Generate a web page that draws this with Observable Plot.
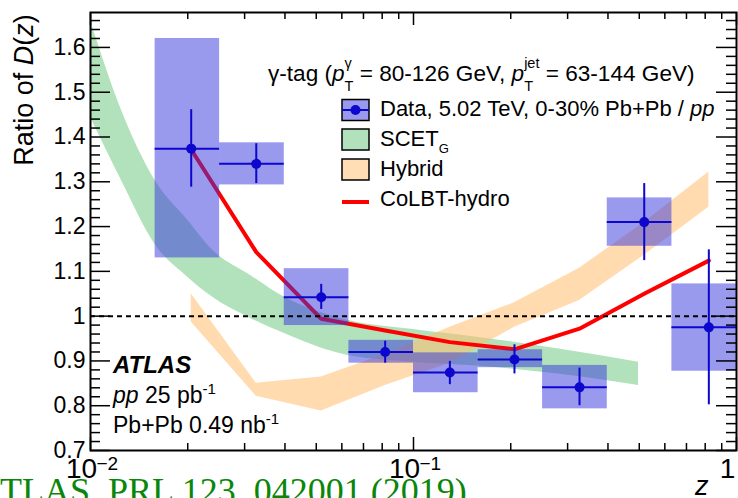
<!DOCTYPE html>
<html><head><meta charset="utf-8">
<script src="https://cdn.jsdelivr.net/npm/d3@7"></script>
<script src="https://cdn.jsdelivr.net/npm/@observablehq/plot@0.6"></script>
<style>
html,body{margin:0;padding:0;background:#fff;}
svg{display:block;}
</style></head><body><div id="chart"></div>
<script>
// ---- data ----
const binLo  = [0.01585, 0.0251, 0.0398, 0.0631, 0.1, 0.1585, 0.251, 0.398, 0.631];
const binHi  = [0.0251, 0.0398, 0.0631, 0.1, 0.1585, 0.251, 0.398, 0.631, 1.0];
const zData  = [0.0205, 0.0326, 0.0518, 0.0817, 0.1296, 0.2054, 0.3266, 0.518, 0.821];
const ratio  = [1.374, 1.340, 1.042, 0.920, 0.874, 0.903, 0.841, 1.210, 0.975];
const statLo = [1.288, 1.296, 1.015, 0.895, 0.847, 0.871, 0.800, 1.124, 0.802];
const statHi = [1.461, 1.385, 1.071, 0.944, 0.899, 0.936, 0.884, 1.296, 1.148];
const sysLo  = [1.130, 1.293, 0.979, 0.895, 0.829, 0.885, 0.793, 1.156, 0.877];
const sysHi  = [1.620, 1.387, 1.106, 0.946, 0.918, 0.925, 0.890, 1.264, 1.072];

const zColbt = [0.0205, 0.0326, 0.0518, 0.0817, 0.1296, 0.2054, 0.3266, 0.518, 0.821];
const colbt  = [1.372, 1.143, 0.994, 0.968, 0.942, 0.926, 0.972, 1.050, 1.124];

const zScet  = [0.01, 0.01247, 0.01585, 0.0200, 0.0239, 0.03129, 0.03987, 0.0594, 0.1, 0.1613, 0.2852, 0.4973];
const scetUp = [1.660, 1.460, 1.303, 1.214, 1.147, 1.091, 1.042, 0.995, 0.970, 0.952, 0.926, 0.897];
const scetLo = [1.444, 1.303, 1.160, 1.087, 1.042, 0.995, 0.961, 0.916, 0.897, 0.888, 0.870, 0.845];

const zHybrid  = [0.0205, 0.0326, 0.0518, 0.0817, 0.1296, 0.2054, 0.3266, 0.518, 0.821];
const hybridUp = [1.050, 0.850, 0.864, 0.915, 0.975, 1.030, 1.107, 1.209, 1.322];
const hybridLo = [0.987, 0.821, 0.788, 0.845, 0.895, 0.975, 1.035, 1.136, 1.243];

const yTicks = [0.7, 0.8, 0.9, 1.0, 1.1, 1.2, 1.3, 1.4, 1.5, 1.6];
const yMinorTicks = [0.72,0.74,0.76,0.78,0.82,0.84,0.86,0.88,0.92,0.94,0.96,0.98,1.02,1.04,1.06,1.08,1.12,1.14,1.16,1.18,1.22,1.24,1.26,1.28,1.32,1.34,1.36,1.38,1.42,1.44,1.46,1.48,1.52,1.54,1.56,1.58,1.62,1.64,1.66];
const xTicks = [0.01, 0.1, 1];
const xMinorTicks = [0.02,0.03,0.04,0.05,0.06,0.07,0.08,0.09,0.2,0.3,0.4,0.5,0.6,0.7,0.8,0.9];
const xTickBase = ["10", "10", "1"];
const xTickExp  = ["\u22122", "\u22121", ""];
const yMax = 1.678;

// ---- styles ----
const FONT = '"Liberation Sans", Arial, Helvetica, sans-serif';
const BLUE = "#0d06cc";
const BOXFILL = "rgb(51,51,221)";
const GREEN = "rgb(102,197,122)";
const ORANGE = "rgb(255,190,110)";

const bins = binLo.map((lo, i) => ({lo, hi: binHi[i], z: zData[i], r: ratio[i],
  sLo: statLo[i], sHi: statHi[i], yLo: sysLo[i], yHi: sysHi[i]}));
const scet = zScet.map((z, i) => ({z, lo: scetLo[i], up: scetUp[i]}));
const hyb = zHybrid.map((z, i) => ({z, lo: hybridLo[i], up: hybridUp[i]}));
const col = zColbt.map((z, i) => ({z, v: colbt[i]}));
const xLab = xTicks.map((v, i) => ({v, base: xTickBase[i], exp: xTickExp[i]}));
const fmtY = d => String(+d.toFixed(1));

const plot = Plot.plot({
  width: 738, height: 498,
  marginLeft: 90, marginRight: 2, marginTop: 12, marginBottom: 48,
  style: {fontFamily: FONT, background: "white", color: "black"},
  x: {type: "log", domain: [0.01, 1], axis: null},
  y: {domain: [0.7, yMax], axis: null},
  marks: [
    Plot.areaY(scet, {x: "z", y1: "lo", y2: "up", fill: GREEN, fillOpacity: 0.5, curve: "monotone-x"}),
    Plot.areaY(hyb, {x: "z", y1: "lo", y2: "up", fill: ORANGE, fillOpacity: 0.55}),
    Plot.line(col, {x: "z", y: "v", stroke: "#ff0000", strokeWidth: 4}),
    Plot.rect(bins, {x1: "lo", x2: "hi", y1: "yLo", y2: "yHi", fill: BOXFILL, fillOpacity: 0.5}),
    Plot.ruleY([1], {stroke: "black", strokeWidth: 2, strokeDasharray: "5,4"}),
    Plot.ruleX(bins, {x: "z", y1: "sLo", y2: "sHi", stroke: BLUE, strokeWidth: 2}),
    Plot.ruleY(bins, {y: "r", x1: "lo", x2: "hi", stroke: BLUE, strokeWidth: 2}),
    Plot.dot(bins, {x: "z", y: "r", r: 5, fill: BLUE, stroke: null}),
    // ticks (inside the frame, ROOT style)
    Plot.ruleY(yTicks, {y: d => d, x1: 0.01, x2: 0.01, insetRight: -20, stroke: "black", strokeWidth: 1.5}),
    Plot.ruleY(yMinorTicks, {y: d => d, x1: 0.01, x2: 0.01, insetRight: -10, stroke: "black", strokeWidth: 1.5}),
    Plot.ruleY(yTicks, {y: d => d, x1: 1, x2: 1, insetLeft: -20, stroke: "black", strokeWidth: 1.5}),
    Plot.ruleY(yMinorTicks, {y: d => d, x1: 1, x2: 1, insetLeft: -10, stroke: "black", strokeWidth: 1.5}),
    Plot.ruleX(xTicks, {x: d => d, y1: 0.7, y2: 0.7, insetTop: -13, stroke: "black", strokeWidth: 1.5}),
    Plot.ruleX(xMinorTicks, {x: d => d, y1: 0.7, y2: 0.7, insetTop: -7, stroke: "black", strokeWidth: 1.5}),
    Plot.ruleX(xTicks, {x: d => d, y1: yMax, y2: yMax, insetBottom: -13, stroke: "black", strokeWidth: 1.5}),
    Plot.ruleX(xMinorTicks, {x: d => d, y1: yMax, y2: yMax, insetBottom: -7, stroke: "black", strokeWidth: 1.5}),
    // tick labels
    Plot.text(yTicks, {y: d => d, frameAnchor: "left", dx: -5, textAnchor: "end", text: fmtY, fontSize: 23, fill: "black"}),
    Plot.text(xLab, {x: "v", frameAnchor: "bottom", dy: 27, dx: -9, text: "base", fontSize: 28, fill: "black"}),
    Plot.text(xLab, {x: "v", frameAnchor: "bottom", dy: 19, dx: 6, textAnchor: "start", text: "exp", fontSize: 19, fill: "black"}),
    Plot.frame({stroke: "black", strokeWidth: 2})
  ]
});
document.getElementById("chart").appendChild(plot);

// ---- annotations (legend, labels) ----
const svg = d3.select(plot);
const g = svg.append("g").attr("font-family", FONT).attr("fill", "black")
  .attr("text-anchor", "start").style("text-anchor", "start");

function rich(x, y, parts, size) {
  let cx = x, prevStart = x;
  for (const p of parts) {
    const fs = p.fs || size;
    const px = p.stack ? prevStart : cx;
    const t = g.append("text").attr("x", px).attr("y", y + (p.dy || 0))
      .attr("font-size", fs).attr("text-anchor", "start").text(p.t);
    if (p.it) t.attr("font-style", "italic");
    if (p.b) t.attr("font-weight", "bold");
    if (p.fill) t.attr("fill", p.fill);
    if (p.family) t.attr("font-family", p.family);
    const w = t.node().getComputedTextLength();
    if (p.stack) cx = Math.max(cx, px + w);
    else { prevStart = px; cx = px + w; }
  }
  return cx;
}

// header
rich(268, 81, [
  {t: "\u03b3-tag ("}, {t: "p", it: true},
  {t: "T", fs: 14.5, dy: 10}, {t: "\u03b3", fs: 14.5, dy: -13, stack: true},
  {t: " = 80-126 GeV, "}, {t: "p", it: true},
  {t: "T", fs: 14.5, dy: 10}, {t: "jet", fs: 14.5, dy: -13, stack: true},
  {t: " = 63-144 GeV)"}
], 22.6);

// legend symbols
const lx = 342, lw = 27;
g.append("rect").attr("x", lx).attr("y", 99.5).attr("width", lw).attr("height", 21)
  .attr("fill", "rgb(153,153,238)").attr("stroke", "black").attr("stroke-width", 1.5);
g.append("line").attr("x1", lx).attr("x2", lx + lw).attr("y1", 110).attr("y2", 110)
  .attr("stroke", BLUE).attr("stroke-width", 2);
g.append("circle").attr("cx", lx + lw / 2).attr("cy", 110).attr("r", 5).attr("fill", BLUE);
g.append("rect").attr("x", lx).attr("y", 129).attr("width", lw).attr("height", 21)
  .attr("fill", "rgb(178,226,188)").attr("stroke", "black").attr("stroke-width", 1.5);
g.append("rect").attr("x", lx).attr("y", 159).attr("width", lw).attr("height", 21)
  .attr("fill", "rgb(255,222,182)").attr("stroke", "black").attr("stroke-width", 1.5);
g.append("line").attr("x1", lx).attr("x2", lx + lw).attr("y1", 202).attr("y2", 202)
  .attr("stroke", "#ff0000").attr("stroke-width", 4);

rich(380, 116, [{t: "Data, 5.02 TeV, 0-30% Pb+Pb / "}, {t: "pp", it: true}], 22);
rich(380, 146, [{t: "SCET"}, {t: "G", fs: 13, dy: 7}], 22);
rich(380, 176, [{t: "Hybrid"}], 22);
rich(380, 206, [{t: "CoLBT-hydro"}], 22);

// ATLAS block
rich(113, 373, [{t: "ATLAS", b: true, it: true}], 24);
rich(113, 403, [{t: "pp", it: true}, {t: " 25 pb"}, {t: "-1", fs: 15, dy: -9}], 23);
rich(113, 433, [{t: "Pb+Pb 0.49 nb"}, {t: "-1", fs: 15, dy: -9}], 23);

// axis titles
const yt = g.append("text").attr("transform", "translate(33,90) rotate(-90)")
  .attr("text-anchor", "middle").style("text-anchor", "middle").attr("font-size", 27);
yt.append("tspan").text("Ratio of ");
yt.append("tspan").attr("font-style", "italic").text("D");
yt.append("tspan").text("(");
yt.append("tspan").attr("font-style", "italic").text("z");
yt.append("tspan").text(")");
rich(695, 495, [{t: "z", it: true}], 27);

// citation
rich(-22, 503, [{t: "ATLAS, PRL 123, 042001 (2019)", fill: "rgb(10,135,10)",
  family: '"Liberation Serif", "Times New Roman", serif'}], 36);
</script>
</body></html>
